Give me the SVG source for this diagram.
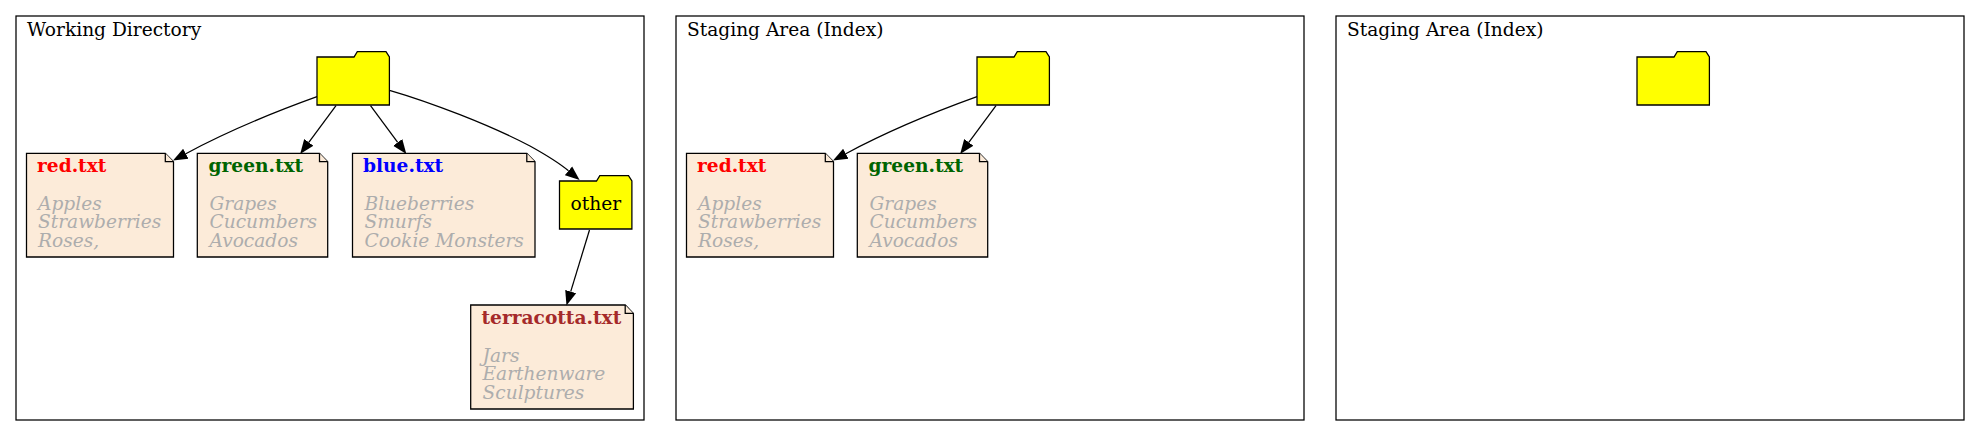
<svg xmlns="http://www.w3.org/2000/svg" width="1980" height="436" viewBox="0 0 1980 436">
<style>
text{font-family:"DejaVu Serif","Liberation Serif",serif;font-size:18.6px;fill:#000}
.c{fill:#fff;stroke:#000;stroke-width:1.26}
.f{fill:#ff0;stroke:#000;stroke-width:1.26}
.n{fill:#fcebd9;stroke:#000;stroke-width:1.26}
.e{fill:none;stroke:#000;stroke-width:1.26;marker-end:url(#a)}
text.b{font-weight:bold}
text.i{font-style:italic;fill:#adadad}
</style>
<defs>
<marker id="a" markerUnits="userSpaceOnUse" markerWidth="16" markerHeight="13" refX="0" refY="6.5" orient="auto"><path d="M0,0.8 L14.5,6.5 L0,12.2 Z" fill="#000"/></marker>
<path id="fld" d="M0,0H37L40.3,-5.3H69L72.4,0V48H0Z"/>
</defs>
<rect width="1980" height="436" fill="#fff"/>
<g id="cluster-working">
<rect class="c" x="16" y="16" width="628" height="404"/>
<text x="27" y="35.5">Working Directory</text>
</g>
<g id="cluster-staging">
<rect class="c" x="676" y="16" width="628" height="404"/>
<text x="687" y="35.5">Staging Area (Index)</text>
</g>
<g id="cluster-staging-2">
<rect class="c" x="1336" y="16" width="628" height="404"/>
<text x="1347" y="35.5">Staging Area (Index)</text>
</g>
<g id="root-working"><use href="#fld" class="f" x="317" y="57"/></g>
<g id="red-working"><path class="n" d="M26.5,153.3H165.3L173.5,161.7V257H26.5Z"/><path class="n" d="M165.3,153.3V161.7H173.5"/>
<text class="b" x="37" y="172" style="fill:#f00">red.txt</text>
<text class="i" x="38" y="210">Apples</text><text class="i" x="38" y="228">Strawberries</text><text class="i" x="38" y="247">Roses,</text></g>
<g id="green-working"><path class="n" d="M197.3,153.3H319.5L327.7,161.7V257H197.3Z"/><path class="n" d="M319.5,153.3V161.7H327.7"/>
<text class="b" x="208.5" y="172" style="fill:#006400">green.txt</text>
<text class="i" x="209.5" y="210">Grapes</text><text class="i" x="209.5" y="228">Cucumbers</text><text class="i" x="209.5" y="247">Avocados</text></g>
<g id="blue-working"><path class="n" d="M352.5,153.3H526.8L535,161.7V257H352.5Z"/><path class="n" d="M526.8,153.3V161.7H535"/>
<text class="b" x="363" y="172" style="fill:#00f">blue.txt</text>
<text class="i" x="364.5" y="210">Blueberries</text><text class="i" x="364.5" y="228">Smurfs</text><text class="i" x="364.5" y="247">Cookie Monsters</text></g>
<g id="other-working"><use href="#fld" class="f" x="559.5" y="181"/>
<text x="595.8" y="209.5" text-anchor="middle">other</text></g>
<g id="terracotta-working"><path class="n" d="M470.7,305H625.2L633.4,313.4V409H470.7Z"/><path class="n" d="M625.2,305V313.4H633.4"/>
<text class="b" x="481.5" y="323.5" style="fill:#a52a2a">terracotta.txt</text>
<text class="i" x="482.5" y="362">Jars</text><text class="i" x="482.5" y="380">Earthenware</text><text class="i" x="482.5" y="399">Sculptures</text></g>
<g id="root-staging"><use href="#fld" class="f" x="977" y="57"/></g>
<g id="red-staging"><path class="n" d="M686.5,153.3H825.3L833.5,161.7V257H686.5Z"/><path class="n" d="M825.3,153.3V161.7H833.5"/>
<text class="b" x="697" y="172" style="fill:#f00">red.txt</text>
<text class="i" x="698" y="210">Apples</text><text class="i" x="698" y="228">Strawberries</text><text class="i" x="698" y="247">Roses,</text></g>
<g id="green-staging"><path class="n" d="M857.3,153.3H979.5L987.7,161.7V257H857.3Z"/><path class="n" d="M979.5,153.3V161.7H987.7"/>
<text class="b" x="868.5" y="172" style="fill:#006400">green.txt</text>
<text class="i" x="869.5" y="210">Grapes</text><text class="i" x="869.5" y="228">Cucumbers</text><text class="i" x="869.5" y="247">Avocados</text></g>
<g id="root-staging-2"><use href="#fld" class="f" x="1637" y="57"/></g>
<g id="connectors">
<path class="e" d="M317,96.7C280,110 230,130 185.8,153.7"/>
<path class="e" d="M336,105.7L308.8,142.4"/>
<path class="e" d="M370.5,105.7L397.7,142.4"/>
<path class="e" d="M389.5,90.3C430,102 490,125 530,146C548,156 558,162 568.5,170.8"/>
<path class="e" d="M589.5,230L570.7,291.6"/>
<path class="e" d="M977,96.7C940,110 890,130 845.8,153.7"/>
<path class="e" d="M996,105.7L968.8,142.4"/>
</g>
</svg>
